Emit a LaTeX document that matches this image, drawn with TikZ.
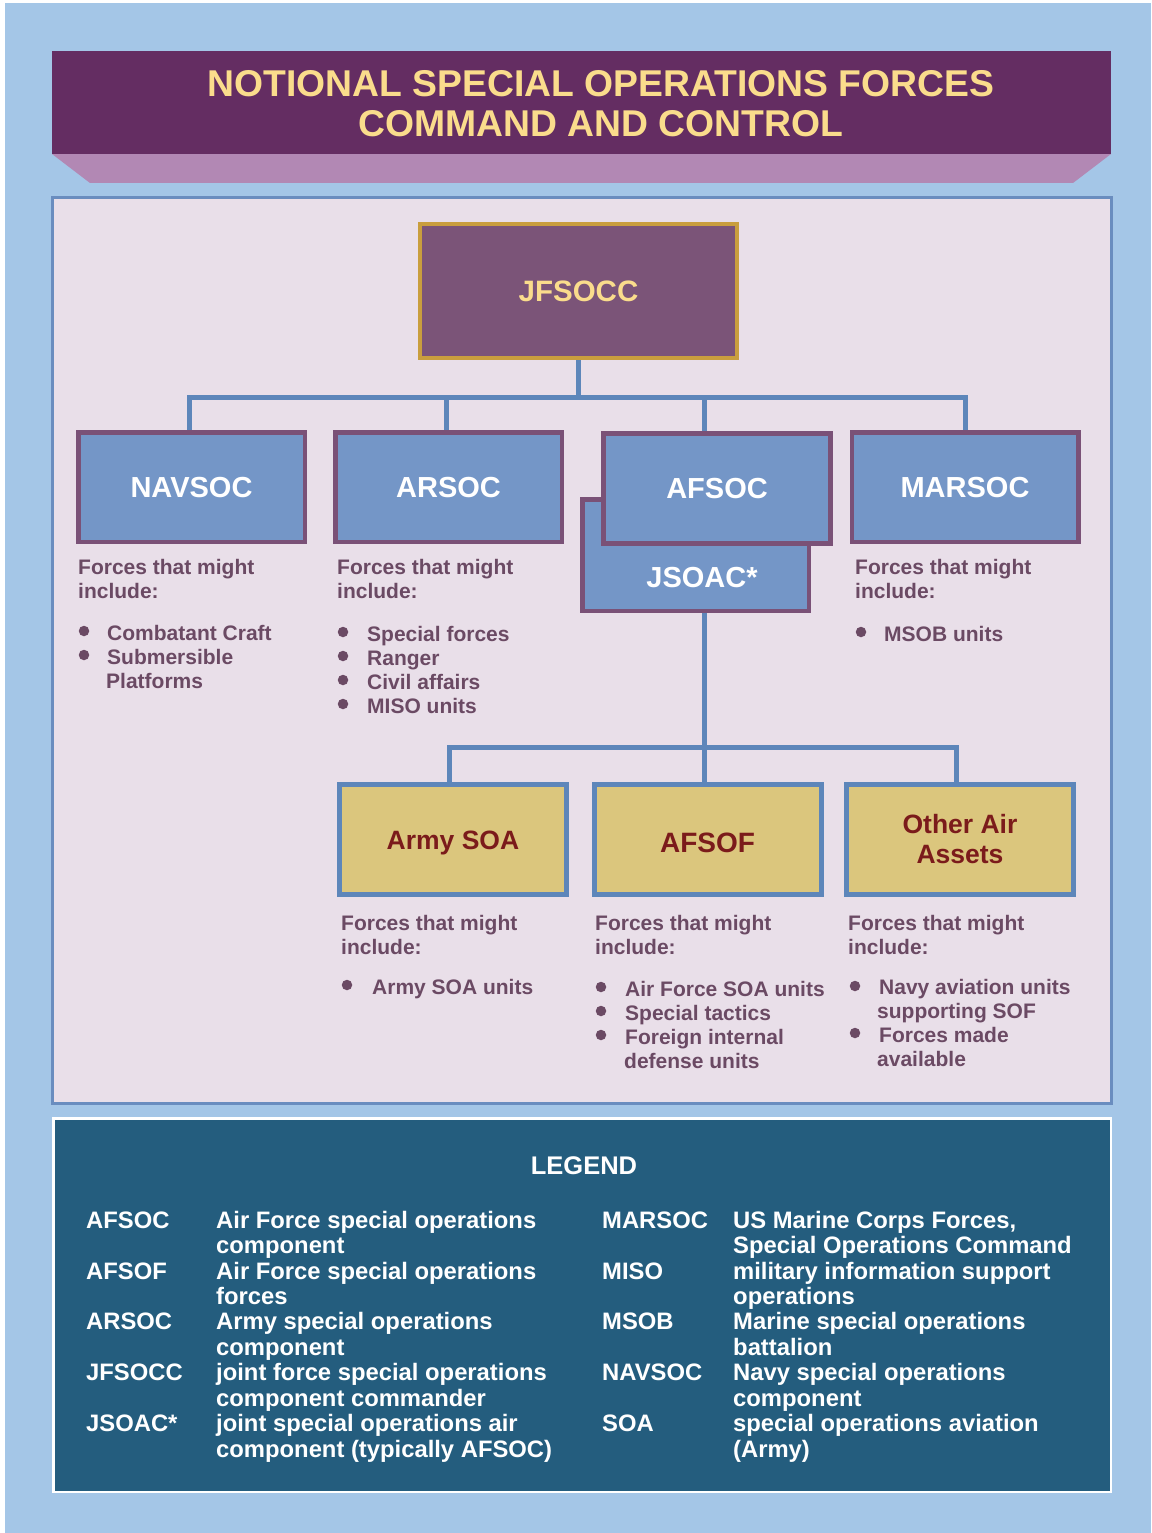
\documentclass[tikz,border=0pt]{standalone}
\usepackage{fontspec}
\setmainfont{Liberation Sans}
\definecolor{bgblue}{HTML}{A4C6E7}
\definecolor{banner}{HTML}{642D62}
\definecolor{bannerlow}{HTML}{B288B4}
\definecolor{titletxt}{HTML}{FADC8C}
\definecolor{panelfill}{HTML}{E9DFE9}
\definecolor{paneledge}{HTML}{6A8DBF}
\definecolor{jffill}{HTML}{7B5478}
\definecolor{jfedge}{HTML}{C99E3E}
\definecolor{boxfill}{HTML}{7496C7}
\definecolor{boxedge}{HTML}{7A5177}
\definecolor{connblue}{HTML}{5D86BA}
\definecolor{goldfill}{HTML}{DBC67D}
\definecolor{darkred}{HTML}{7B1B1B}
\definecolor{bodytxt}{HTML}{6B4A64}
\definecolor{legfill}{HTML}{245D7E}
\newcommand{\fTitle}{\fontsize{37.3}{40}\selectfont\bfseries}
\newcommand{\fJF}{\fontsize{29.5}{32}\selectfont\bfseries}
\newcommand{\fBox}{\fontsize{29}{32}\selectfont\bfseries}
\newcommand{\fAir}{\fontsize{26.5}{30}\selectfont\bfseries}
\newcommand{\fBody}{\fontsize{21}{24}\selectfont\bfseries}
\newcommand{\fLeg}{\fontsize{23.8}{25.4}\selectfont\bfseries}
\newcommand{\fLegHead}{\fontsize{25.5}{28}\selectfont\bfseries}
\begin{document}
\begin{tikzpicture}[x=1pt,y=-1pt,
  conn/.style={draw=connblue, line width=5pt},
  navbox/.style={draw=boxedge, fill=boxfill, line width=4.5pt, minimum width=226.5pt, minimum height=109.5pt, inner sep=0pt, text=white, font=\fBox, text height=20.8pt, text depth=0pt},
  airbox/.style={draw=connblue, fill=goldfill, line width=5pt, minimum width=227pt, minimum height=110pt, inner sep=0pt, text=darkred, font=\fAir},
  body/.style={font=\fBody, text=bodytxt, inner sep=0pt, anchor=base west},
  legtxt/.style={font=\fLeg, text=white, inner sep=0pt, anchor=base west},
  bul/.style={circle, fill=bodytxt, minimum size=10.5pt, inner sep=0pt},
]
\useasboundingbox (0,0) rectangle (1151,1533);
\fill[white] (0,0) rectangle (1151,1533);
\fill[bgblue] (5,3) rectangle (1151,1533);
% title banner
\fill[bannerlow] (52,154) -- (1111,154) -- (1073,183) -- (90,183) -- cycle;
\fill[banner] (52,51) rectangle (1111,154);
\node[font=\fTitle, text=titletxt, inner sep=0pt, anchor=base] (title1) at (601,97) {NOTIONAL SPECIAL OPERATIONS FORCES};
\node[font=\fTitle, text=titletxt, inner sep=0pt, anchor=base] (title2) at (601,137) {COMMAND AND CONTROL};
% main panel
\draw[draw=paneledge, fill=panelfill, line width=3pt] (52.5,197.5) rectangle (1111.5,1103.5);
% top box
\node[draw=jfedge, fill=jffill, line width=4pt, minimum width=317pt, minimum height=134pt, inner sep=0pt, text=titletxt, font=\fJF, text height=21.2pt, text depth=0pt] (jfsocc) at (578.5,291) {JFSOCC};
% connector coordinates
\coordinate (bus) at (578,397);
\coordinate (bN) at (189,397);
\coordinate (bA) at (446,397);
\coordinate (bF) at (704,397);
\coordinate (bM) at (965,397);
\coordinate (cA) at (449,747);
\coordinate (cF) at (704,747);
\coordinate (cO) at (956,747);
\coordinate (jsoacbot) at (704,612);
% connectors level 1
\draw[conn] (jfsocc.south) -- (jfsocc.south |- bus);
\draw[conn] (bN |- 0,435) -- (bN) -- (bM) -- (bM |- 0,435);
\draw[conn] (bA) -- (bA |- 0,435);
\draw[conn] (bF) -- (bF |- 0,435);
% connectors level 2
\draw[conn] (cA |- 0,786) -- (cA) -- (cO) -- (cO |- 0,786);
\draw[conn] (jsoacbot) -- (cF |- 0,786);
% level 2 boxes
\node[navbox] (navsoc) at (191.5,487) {NAVSOC};
\node[navbox] (arsoc) at (448.5,487) {ARSOC};
\node[navbox, minimum height=111.5pt] (jsoac) at (695.5,555) {};
\node[font=\fBox, text=white, inner sep=0pt, anchor=base] (jsoaclbl) at (702,587) {JSOAC*};
\node[navbox, minimum width=227pt, minimum height=110pt, line width=5pt] (afsoc) at (717,488.5) {AFSOC};
\node[navbox] (marsoc) at (965,487) {MARSOC};
% level 3 boxes
\node[airbox, text height=19pt, text depth=0pt] (armysoa) at (453,839.5) {Army SOA};
\node[airbox, font=\fontsize{28}{30}\selectfont\bfseries, text height=25pt, text depth=0pt] (afsof) at (707.5,839.5) {AFSOF};
\node[airbox, align=center] (otherair) at (960,839.5) {Other Air\\Assets};
% body texts
\foreach \x/\y/\t [count=\i] in {
  78/574/Forces that might, 78/598/include:,
  107/640/Combatant Craft, 107/664/Submersible, 106/688/Platforms,
  337/574/Forces that might, 337/598/include:,
  367/641/Special forces, 367/665/Ranger, 367/689/Civil affairs, 367/713/MISO units,
  855/574/Forces that might, 855/598/include:,
  884/641/MSOB units,
  341/930/Forces that might, 341/954/include:,
  372/994/Army SOA units,
  595/930/Forces that might, 595/954/include:,
  625/996/Air Force SOA units, 625/1020/Special tactics, 625/1044/Foreign internal, 624/1068/defense units,
  848/930/Forces that might, 848/954/include:,
  879/994/Navy aviation units, 877/1018/supporting SOF, 879/1042/Forces made, 877/1066/available}
  \node[body] (txt\i) at (\x,\y) {\t};
% bullets
\foreach \x/\y [count=\i] in {84/631, 84/655,
  343/632, 343/656, 343/680, 343/704,
  861/632,
  347/985,
  601/987, 601/1011, 601/1035,
  855/986, 855/1033}
  \node[bul] (bullet\i) at (\x,\y) {};
% legend
\draw[draw=white, fill=legfill, line width=2.5pt] (53.25,1118.25) rectangle (1110.75,1491.75);
\node[font=\fLegHead, text=white, inner sep=0pt, anchor=base] (leghead) at (584,1174) {LEGEND};
\foreach \x/\y/\t [count=\i] in {
  86/1228/AFSOC, 86/1279/AFSOF, 86/1329/ARSOC, 86/1380/JFSOCC, 86/1431/JSOAC*,
  216/1228/Air Force special operations, 216/1253/component,
  216/1279/Air Force special operations, 216/1304/forces,
  216/1329/Army special operations, 216/1355/component,
  216/1380/joint force special operations, 216/1406/component commander,
  216/1431/joint special operations air, 216/1457/component (typically AFSOC),
  602/1228/MARSOC, 602/1279/MISO, 602/1329/MSOB, 602/1380/NAVSOC, 602/1431/SOA,
  733/1228/{US Marine Corps Forces,}, 733/1253/Special Operations Command,
  733/1279/military information support, 733/1304/operations,
  733/1329/Marine special operations, 733/1355/battalion,
  733/1380/Navy special operations, 733/1406/component,
  733/1431/special operations aviation, 733/1457/(Army)}
  \node[legtxt] (leg\i) at (\x,\y) {\t};
\end{tikzpicture}
\end{document}
